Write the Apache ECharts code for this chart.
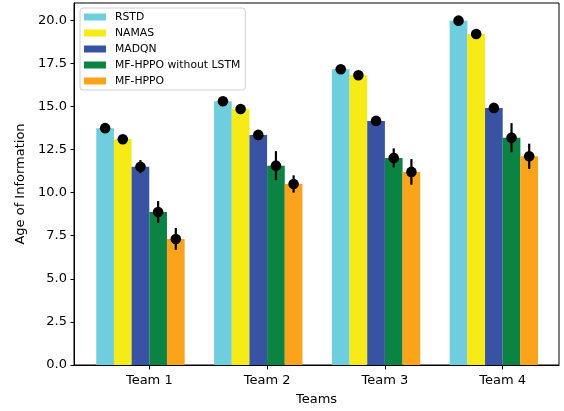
<!DOCTYPE html>
<html>
<head>
<meta charset="utf-8">
<script src="https://cdn.jsdelivr.net/npm/echarts@6/dist/echarts.min.js"></script>
<style>html,body{margin:0;padding:0;background:#fff}#c{width:564px;height:411px}</style>
</head>
<body>
<div id="c"></div>
<script>
var teams = ['Team 1', 'Team 2', 'Team 3', 'Team 4'];
var seriesNames = ['RSTD', 'NAMAS', 'MADQN', 'MF-HPPO without LSTM', 'MF-HPPO'];
var rstd = [13.76, 15.32, 17.17, 19.98];
var namas = [13.12, 14.87, 16.82, 19.21];
var madqn = [11.53, 13.37, 14.18, 14.93];
var mfNoLstm = [8.91, 11.59, 12.04, 13.21];
var mfHppo = [7.35, 10.53, 11.23, 12.13];
var rstdErr = [0.1, 0.1, 0.1, 0.1];
var namasErr = [0.1, 0.1, 0.1, 0.1];
var madqnErr = [0.38, 0.12, 0.12, 0.12];
var mfNoLstmErr = [0.63, 0.84, 0.55, 0.84];
var mfHppoErr = [0.63, 0.5, 0.74, 0.73];
var yTicks = [0, 2.5, 5, 7.5, 10, 12.5, 15, 17.5, 20];
var colors = ['#6FCEDE', '#F6EA17', '#3953A4', '#0B8343', '#FAA31B'];

var means = [rstd, namas, madqn, mfNoLstm, mfHppo];
var errs = [rstdErr, namasErr, madqnErr, mfNoLstmErr, mfHppoErr];
var FONT = 'DejaVu Sans';
var YMAX = 21;

var series = [];
means.forEach(function (arr, k) {
  series.push({
    type: 'bar', name: seriesNames[k], xAxisIndex: 0, yAxisIndex: 0,
    data: arr, barWidth: '15%', barGap: '0%',
    itemStyle: { color: colors[k] }, z: 2
  });
});
series.push({
  type: 'bar', name: '_pad', xAxisIndex: 0, yAxisIndex: 0,
  data: teams.map(function () { return null; }), barWidth: '15%', barGap: '0%'
});
means.forEach(function (arr, k) {
  series.push({
    type: 'custom', name: 'err' + k, xAxisIndex: 0, yAxisIndex: 0, z: 5,
    data: arr.map(function (v, i) { return [i, v, errs[k][i]]; }),
    renderItem: function (params, api) {
      var i = api.value(0), v = api.value(1), e = api.value(2);
      var band = api.size([1, 0])[0];
      var off = (k - 2.5) * 0.15 * band;
      var c = api.coord([i, v]);
      var lo = api.coord([i, v - e]);
      var hi = api.coord([i, v + e]);
      var x = c[0] + off;
      return {
        type: 'group',
        children: [
          { type: 'line', shape: { x1: x, y1: lo[1], x2: x, y2: hi[1] }, style: { stroke: '#000', lineWidth: 2.2 } },
          { type: 'circle', shape: { cx: x, cy: c[1], r: 5.3 }, style: { fill: '#000' } }
        ]
      };
    }
  });
});

var chart = echarts.init(document.getElementById('c'), null, { renderer: 'canvas' });
chart.setOption({
  animation: false,
  textStyle: { fontFamily: FONT },
  grid: [
    { left: 90.4, right: 2.4, top: 3, bottom: 45, show: false },
    { left: 74, right: 5, top: 3, bottom: 45, show: true, borderColor: '#000', borderWidth: 1, backgroundColor: 'transparent' }
  ],
  xAxis: [
    {
      type: 'category', gridIndex: 0, data: teams,
      axisLine: { show: false },
      axisTick: { show: true, alignWithLabel: true, length: 3.5, lineStyle: { color: '#000', width: 1 } },
      axisLabel: { color: '#000', fontSize: 13, fontFamily: FONT, margin: 8 },
      splitLine: { show: false }
    },
    {
      type: 'value', gridIndex: 1, min: 0, max: 1, z: 10,
      name: 'Teams', nameLocation: 'middle', nameGap: 28,
      nameTextStyle: { color: '#000', fontSize: 13, fontFamily: FONT },
      axisLine: { show: true, lineStyle: { color: '#000', width: 1 } },
      axisTick: { show: false }, axisLabel: { show: false }, splitLine: { show: false }
    }
  ],
  yAxis: [
    {
      type: 'value', gridIndex: 0, min: 0, max: YMAX, show: false, splitLine: { show: false }
    },
    {
      type: 'value', gridIndex: 1, min: 0, max: YMAX, z: 10,
      name: 'Age of Information', nameLocation: 'middle', nameGap: 46,
      nameTextStyle: { color: '#000', fontSize: 13, fontFamily: FONT },
      axisLine: { show: true, lineStyle: { color: '#000', width: 1 } },
      axisTick: { show: true, length: 3.5, customValues: yTicks, lineStyle: { color: '#000', width: 1 } },
      axisLabel: { color: '#000', fontSize: 13, fontFamily: FONT, margin: 7, customValues: yTicks,
        formatter: function (v) { return Number(v).toFixed(1); } },
      splitLine: { show: false }
    }
  ],
  legend: {
    data: seriesNames, orient: 'vertical', left: 80, top: 8,
    icon: 'rect', itemWidth: 22, itemHeight: 7, itemGap: 4,
    padding: [3, 5, 3, 4],
    borderColor: '#d0d0d0', borderWidth: 1, borderRadius: 3,
    backgroundColor: 'rgba(255,255,255,0.8)',
    textStyle: { color: '#000', fontSize: 10.8, fontFamily: FONT, lineHeight: 12, padding: [0, 0, 0, 4] }
  },
  series: series
});
</script>
</body>
</html>
